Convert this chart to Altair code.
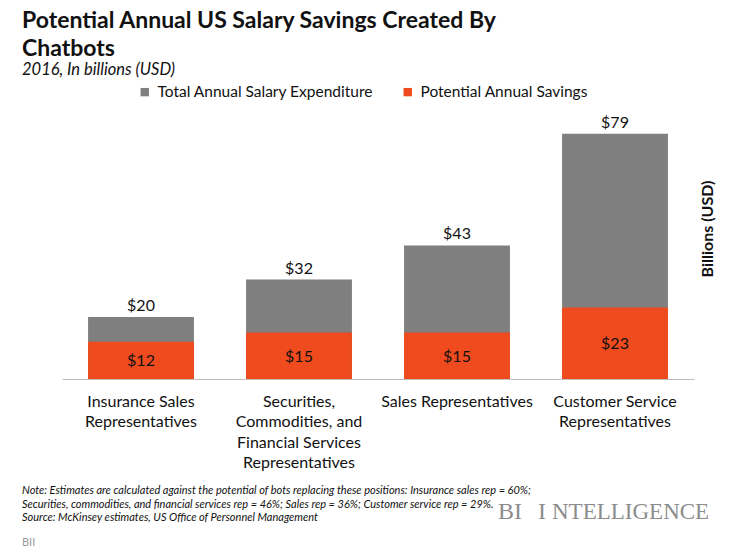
import altair as alt
import pandas as pd

# ---- data ----
category_lines = [
    ["Insurance Sales", "Representatives"],
    ["Securities,", "Commodities, and", "Financial Services", "Representatives"],
    ["Sales Representatives"],
    ["Customer Service", "Representatives"],
]
total_expenditure = [20, 32, 43, 79]
potential_savings = [12, 15, 15, 23]

series_names = ["Total Annual Salary Expenditure", "Potential Annual Savings"]
series_colors = ["#7f7f7f", "#f04b1e"]

title_lines = ["Potential Annual US Salary Savings Created By", "Chatbots"]
subtitle = "2016, In billions (USD)"
axis_title = "Billions (USD)"
note_lines = [
    "Note: Estimates are calculated against the potential of bots replacing these positions: Insurance sales rep = 60%;",
    "Securities, commodities, and financial services rep = 46%; Sales rep = 36%; Customer service rep = 29%.",
    "Source: McKinsey estimates, US Office of Personnel Management",
]

cats = ["|".join(l) for l in category_lines]
df = pd.DataFrame({"cat": cats, "total": total_expenditure, "savings": potential_savings})
df["total_label"] = ["$" + str(v) for v in total_expenditure]
df["savings_label"] = ["$" + str(v) for v in potential_savings]
df["savings_mid"] = [v / 2 for v in potential_savings]

FONT = "Lato"

x_enc = alt.X(
    "cat:N",
    sort=cats,
    scale=alt.Scale(paddingInner=0.33, paddingOuter=0.165),
    axis=alt.Axis(
        title=None,
        labelAngle=0,
        ticks=False,
        domainColor="#bfbfbf",
        domainWidth=1.2,
        labelExpr="split(datum.label, '|')",
        labelFont=FONT,
        labelFontSize=16,
        labelColor="#111111",
        labelPadding=14,
        labelLineHeight=20.5,
        labelLimit=0,
        labelBaseline="top",
    ),
)
y_scale = alt.Scale(domain=[0, 85], nice=False)
color_scale = alt.Scale(domain=series_names, range=series_colors)

base = alt.Chart(df)

bars_total = base.mark_bar().encode(
    x=x_enc,
    y=alt.Y("total:Q", scale=y_scale, axis=None),
    color=alt.Color(
        "s:N",
        scale=color_scale,
        legend=alt.Legend(
            title=None,
            orient="none",
            legendX=75,
            legendY=-31,
            direction="horizontal",
            symbolType="square",
            symbolSize=70,
            symbolStrokeWidth=0,
            labelFont=FONT,
            labelFontSize=15.5,
            labelColor="#111111",
            labelOffset=5,
            columnPadding=26,
            labelLimit=0,
        ),
    ),
).transform_calculate(s="'" + series_names[0] + "'")

bars_sav = base.mark_bar().encode(
    x=alt.X("cat:N", sort=cats),
    y=alt.Y("savings:Q", scale=y_scale),
    color=alt.Color("s:N", scale=color_scale),
).transform_calculate(s="'" + series_names[1] + "'")

text_total = base.mark_text(
    font=FONT, fontSize=16, color="#111111", baseline="alphabetic", dy=-6
).encode(x=alt.X("cat:N", sort=cats), y=alt.Y("total:Q", scale=y_scale), text="total_label:N")

text_sav = base.mark_text(
    font=FONT, fontSize=16, color="#111111", baseline="middle", dy=1
).encode(x=alt.X("cat:N", sort=cats), y=alt.Y("savings_mid:Q", scale=y_scale), text="savings_label:N")

one = alt.Data(values=[{"k": 1}])


def annot(text, x, y, **kw):
    return alt.Chart(one).mark_text(text=text, **kw).encode(x=alt.value(x), y=alt.value(y))


title1 = annot(title_lines[0], -40, -87, font=FONT, fontSize=23, fontWeight="bold", align="left",
               baseline="alphabetic", color="#111111")
title2 = annot(title_lines[1], -40, -59, font=FONT, fontSize=23, fontWeight="bold", align="left",
               baseline="alphabetic", color="#111111")
sub = annot(subtitle, -40, -40, font=FONT, fontSize=16.5, fontStyle="italic", align="left",
            baseline="alphabetic", color="#111111")
ytitle = annot(axis_title, 646, 114, font=FONT, fontSize=16, fontWeight="bold", angle=270,
               align="center", baseline="middle", color="#111111")
notes = [
    annot(line, -40, 379 + i * 13.5, font=FONT, fontSize=11, fontStyle="italic",
          align="left", baseline="alphabetic", color="#111111")
    for i, line in enumerate(note_lines)
]
logo1 = annot("BI", 436, 404, font="Liberation Serif", fontSize=24, align="left",
              baseline="alphabetic", color="#8c8c8c")
logo2 = annot("I", 476, 404, font="Liberation Serif", fontSize=24, align="left",
              baseline="alphabetic", color="#8c8c8c")
logo3 = annot("NTELLIGENCE", 490, 404, font="Liberation Serif", fontSize=23, align="left",
              baseline="alphabetic", color="#8c8c8c")
bii = annot("BII", -40, 431, font=FONT, fontSize=11, align="left", baseline="alphabetic",
            color="#9a9a9a")

chart = alt.layer(
    bars_total, bars_sav, text_total, text_sav,
    title1, title2, sub, ytitle, *notes, logo1, logo2, logo3, bii,
).properties(
    width=632,
    height=264,
    background="white",
    autosize=alt.AutoSizeParams(type="none"),
    padding={"left": 54, "top": 107, "right": 31, "bottom": 168},
).configure_view(stroke=None)

chart.save("out.html", embed_options={"renderer": "svg", "actions": False})
